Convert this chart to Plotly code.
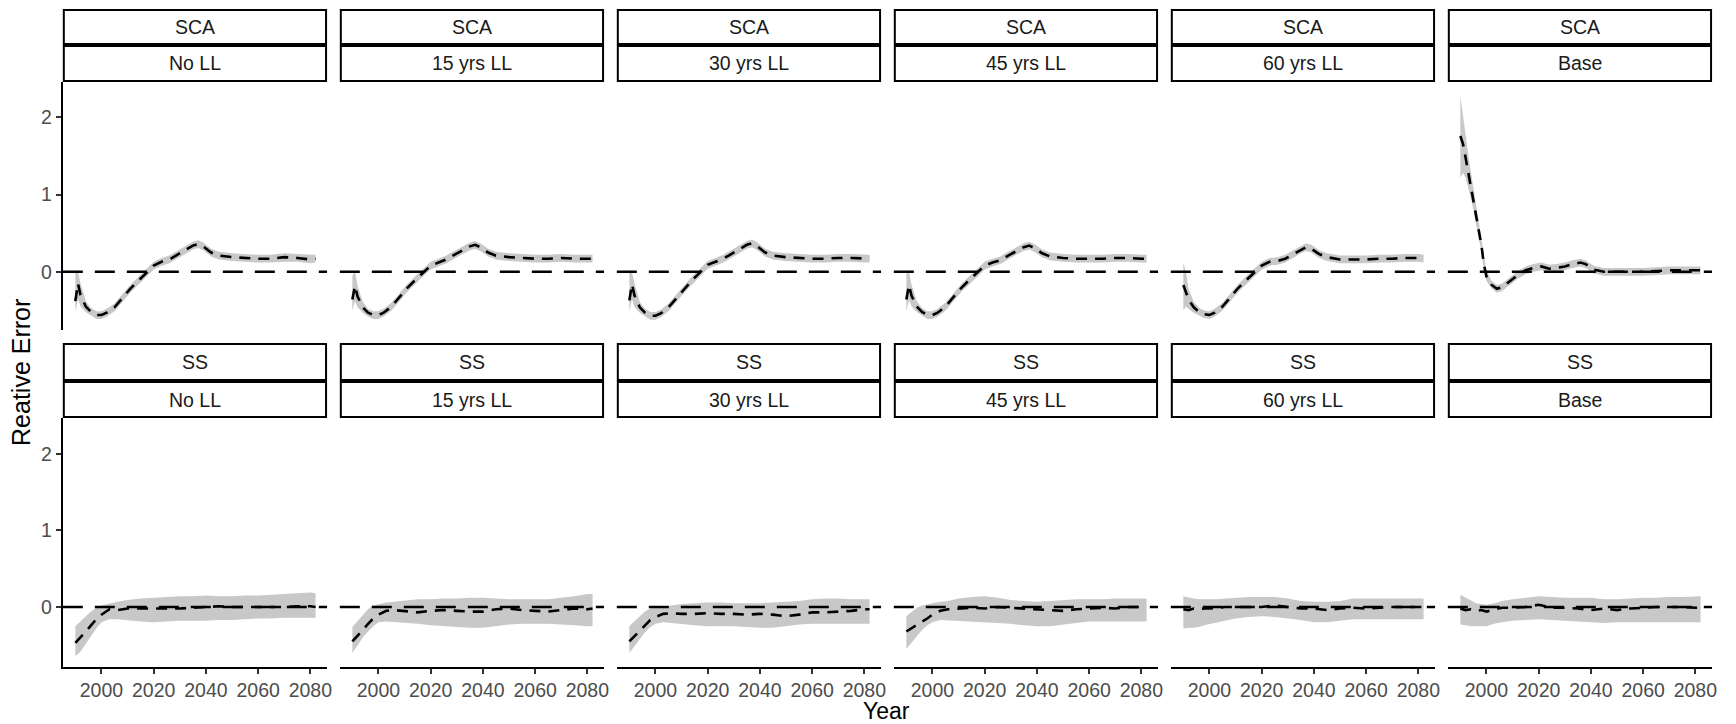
import plotly.graph_objects as go

W, H = 1736, 724

# ---------------- data ----------------
top_labels = ["SCA"] * 6
bot_labels = ["SS"] * 6
scen_labels = ["No LL", "15 yrs LL", "30 yrs LL", "45 yrs LL", "60 yrs LL", "Base"]
x_ticks = [2000, 2020, 2040, 2060, 2080]
y_ticks = [0, 1, 2]

yrs_sca = [1990, 1991, 1992, 1994, 1996, 1998, 2000, 2002, 2005, 2008, 2011, 2014, 2017, 2020, 2023,
           2026, 2029, 2032, 2035, 2037, 2039, 2042, 2045, 2050, 2055, 2060, 2065, 2070, 2075, 2080, 2082]

sca_noll_med = [-0.38, -0.15, -0.30, -0.45, -0.52, -0.56, -0.56, -0.53, -0.46, -0.34, -0.22, -0.12, -0.02, 0.08, 0.13,
                0.16, 0.22, 0.28, 0.34, 0.36, 0.33, 0.25, 0.21, 0.19, 0.18, 0.17, 0.17, 0.19, 0.18, 0.16, 0.17]
sca_noll_lo = [-0.52, -0.35, -0.45, -0.52, -0.57, -0.61, -0.61, -0.58, -0.51, -0.39, -0.27, -0.17, -0.07, 0.03, 0.08,
               0.11, 0.17, 0.23, 0.29, 0.31, 0.28, 0.20, 0.16, 0.14, 0.13, 0.12, 0.12, 0.13, 0.13, 0.11, 0.12]
sca_noll_hi = [-0.02, 0.00, -0.15, -0.38, -0.47, -0.51, -0.51, -0.48, -0.41, -0.29, -0.17, -0.07, 0.03, 0.13, 0.18,
               0.21, 0.27, 0.33, 0.39, 0.41, 0.38, 0.30, 0.26, 0.24, 0.23, 0.22, 0.22, 0.24, 0.23, 0.22, 0.22]

sca_15_med = [-0.36, -0.18, -0.32, -0.46, -0.53, -0.56, -0.56, -0.53, -0.45, -0.33, -0.21, -0.11, -0.01, 0.08, 0.12,
              0.16, 0.22, 0.28, 0.33, 0.35, 0.32, 0.25, 0.21, 0.19, 0.18, 0.17, 0.17, 0.18, 0.17, 0.17, 0.17]
sca_15_lo = [-0.50, -0.38, -0.46, -0.53, -0.58, -0.61, -0.61, -0.58, -0.50, -0.38, -0.26, -0.16, -0.06, 0.03, 0.07,
             0.11, 0.17, 0.23, 0.28, 0.30, 0.27, 0.20, 0.16, 0.14, 0.13, 0.12, 0.12, 0.13, 0.12, 0.12, 0.12]
sca_15_hi = [-0.05, 0.00, -0.18, -0.39, -0.48, -0.51, -0.51, -0.48, -0.40, -0.28, -0.16, -0.06, 0.04, 0.13, 0.17,
             0.21, 0.27, 0.33, 0.38, 0.40, 0.37, 0.30, 0.26, 0.24, 0.23, 0.22, 0.22, 0.23, 0.22, 0.22, 0.22]

sca_30_med = [-0.37, -0.16, -0.31, -0.46, -0.53, -0.57, -0.57, -0.54, -0.46, -0.34, -0.22, -0.11, -0.01, 0.09, 0.13,
              0.17, 0.23, 0.29, 0.35, 0.37, 0.33, 0.25, 0.21, 0.19, 0.18, 0.17, 0.17, 0.18, 0.18, 0.17, 0.17]
sca_30_lo = [-0.52, -0.36, -0.46, -0.53, -0.58, -0.62, -0.62, -0.59, -0.51, -0.39, -0.27, -0.16, -0.06, 0.04, 0.08,
             0.12, 0.18, 0.24, 0.30, 0.32, 0.28, 0.20, 0.16, 0.14, 0.13, 0.12, 0.12, 0.13, 0.13, 0.12, 0.12]
sca_30_hi = [-0.02, 0.00, -0.16, -0.39, -0.48, -0.52, -0.52, -0.49, -0.41, -0.29, -0.17, -0.06, 0.04, 0.14, 0.18,
             0.22, 0.28, 0.34, 0.40, 0.42, 0.38, 0.30, 0.26, 0.24, 0.23, 0.22, 0.22, 0.23, 0.23, 0.22, 0.22]

sca_45_med = [-0.36, -0.17, -0.31, -0.45, -0.52, -0.56, -0.56, -0.53, -0.45, -0.33, -0.21, -0.11, -0.02, 0.08, 0.12,
              0.15, 0.21, 0.27, 0.32, 0.34, 0.31, 0.24, 0.20, 0.18, 0.17, 0.17, 0.17, 0.18, 0.18, 0.17, 0.17]
sca_45_lo = [-0.51, -0.37, -0.45, -0.52, -0.57, -0.61, -0.61, -0.58, -0.50, -0.38, -0.26, -0.16, -0.07, 0.03, 0.07,
             0.10, 0.16, 0.22, 0.27, 0.29, 0.26, 0.19, 0.15, 0.13, 0.12, 0.12, 0.12, 0.13, 0.13, 0.12, 0.12]
sca_45_hi = [-0.03, 0.00, -0.17, -0.38, -0.47, -0.51, -0.51, -0.48, -0.40, -0.28, -0.16, -0.06, 0.03, 0.13, 0.17,
             0.20, 0.26, 0.32, 0.37, 0.39, 0.36, 0.29, 0.25, 0.23, 0.22, 0.22, 0.22, 0.23, 0.23, 0.22, 0.22]

sca_60_med = [-0.17, -0.28, -0.36, -0.46, -0.52, -0.55, -0.56, -0.53, -0.45, -0.33, -0.21, -0.11, -0.02, 0.08, 0.13,
              0.14, 0.17, 0.23, 0.29, 0.32, 0.30, 0.23, 0.19, 0.16, 0.16, 0.16, 0.17, 0.17, 0.18, 0.18, 0.17]
sca_60_lo = [-0.50, -0.45, -0.48, -0.53, -0.57, -0.60, -0.61, -0.58, -0.50, -0.38, -0.26, -0.16, -0.07, 0.03, 0.08,
             0.09, 0.12, 0.18, 0.24, 0.27, 0.25, 0.18, 0.14, 0.11, 0.11, 0.11, 0.12, 0.12, 0.13, 0.13, 0.12]
sca_60_hi = [0.12, 0.00, -0.22, -0.39, -0.47, -0.50, -0.51, -0.48, -0.40, -0.28, -0.16, -0.06, 0.03, 0.13, 0.18,
             0.19, 0.22, 0.28, 0.34, 0.37, 0.35, 0.28, 0.24, 0.21, 0.21, 0.21, 0.22, 0.22, 0.23, 0.23, 0.22]

yrs_sca_base = [1990, 1991, 1992, 1993, 1994, 1995, 1996, 1997, 1998, 1999, 2000, 2002, 2004, 2006, 2009, 2012, 2015,
                2018, 2021, 2024, 2027, 2030, 2033, 2036, 2038, 2041, 2045, 2050, 2055, 2060, 2065, 2070, 2075, 2080, 2082]
sca_base_med = [1.76, 1.66, 1.48, 1.30, 1.12, 0.93, 0.74, 0.55, 0.36, 0.10, -0.06, -0.17, -0.22, -0.20, -0.12, -0.04, 0.02,
                0.05, 0.07, 0.04, 0.05, 0.07, 0.10, 0.12, 0.10, 0.03, 0.00, 0.00, 0.00, 0.00, 0.01, 0.02, 0.02, 0.02, 0.02]
sca_base_lo = [1.22, 1.28, 1.22, 1.10, 0.96, 0.80, 0.63, 0.46, 0.27, 0.03, -0.12, -0.22, -0.27, -0.25, -0.17, -0.09, -0.03,
               0.00, 0.02, -0.01, 0.00, 0.02, 0.05, 0.07, 0.05, -0.02, -0.05, -0.05, -0.05, -0.05, -0.04, -0.03, -0.03, -0.03, -0.03]
sca_base_hi = [2.28, 2.05, 1.78, 1.52, 1.30, 1.07, 0.86, 0.65, 0.45, 0.18, 0.01, -0.12, -0.17, -0.15, -0.07, 0.01, 0.07,
               0.10, 0.12, 0.09, 0.10, 0.12, 0.15, 0.17, 0.15, 0.08, 0.05, 0.05, 0.05, 0.05, 0.06, 0.07, 0.07, 0.07, 0.07]

yrs_ss = [1990, 1992, 1994, 1996, 1998, 2000, 2003, 2006, 2010, 2015, 2020, 2025, 2030, 2035, 2040, 2045, 2050,
          2055, 2060, 2065, 2070, 2075, 2080, 2082]

ss_noll_med = [-0.47, -0.40, -0.32, -0.24, -0.16, -0.10, -0.03, -0.04, -0.02, -0.02, -0.02, -0.02, -0.02, -0.01, 0.00,
               0.01, 0.00, 0.00, 0.00, 0.00, 0.00, 0.01, 0.01, 0.00]
ss_noll_lo = [-0.64, -0.58, -0.48, -0.38, -0.28, -0.20, -0.16, -0.16, -0.17, -0.19, -0.20, -0.19, -0.18, -0.18, -0.18,
              -0.17, -0.17, -0.16, -0.15, -0.15, -0.14, -0.14, -0.14, -0.14]
ss_noll_hi = [-0.25, -0.18, -0.12, -0.06, -0.01, 0.02, 0.05, 0.07, 0.09, 0.11, 0.12, 0.13, 0.14, 0.14, 0.15,
              0.14, 0.14, 0.15, 0.15, 0.16, 0.17, 0.18, 0.19, 0.18]

ss_15_med = [-0.45, -0.38, -0.30, -0.22, -0.15, -0.10, -0.05, -0.04, -0.05, -0.07, -0.05, -0.04, -0.05, -0.06, -0.06,
             -0.03, -0.02, -0.04, -0.05, -0.06, -0.04, -0.02, -0.03, -0.02]
ss_15_lo = [-0.60, -0.50, -0.40, -0.32, -0.25, -0.20, -0.19, -0.20, -0.21, -0.22, -0.24, -0.25, -0.26, -0.27, -0.27,
            -0.25, -0.23, -0.22, -0.22, -0.22, -0.23, -0.24, -0.25, -0.25]
ss_15_hi = [-0.26, -0.18, -0.10, -0.03, 0.02, 0.04, 0.06, 0.07, 0.08, 0.10, 0.10, 0.11, 0.11, 0.12, 0.12,
            0.11, 0.10, 0.10, 0.10, 0.10, 0.12, 0.14, 0.17, 0.17]

ss_30_med = [-0.45, -0.38, -0.30, -0.23, -0.17, -0.13, -0.09, -0.08, -0.09, -0.09, -0.08, -0.09, -0.09, -0.10, -0.09,
             -0.10, -0.12, -0.10, -0.07, -0.07, -0.06, -0.05, -0.03, -0.03]
ss_30_lo = [-0.60, -0.52, -0.42, -0.33, -0.26, -0.22, -0.20, -0.21, -0.22, -0.24, -0.25, -0.25, -0.25, -0.26, -0.27,
            -0.27, -0.25, -0.23, -0.22, -0.22, -0.22, -0.22, -0.22, -0.22]
ss_30_hi = [-0.25, -0.18, -0.12, -0.06, -0.02, 0.00, 0.00, 0.02, 0.04, 0.05, 0.06, 0.06, 0.05, 0.05, 0.05,
            0.06, 0.07, 0.08, 0.10, 0.11, 0.11, 0.10, 0.10, 0.10]

ss_45_med = [-0.32, -0.28, -0.23, -0.19, -0.15, -0.10, -0.05, -0.03, -0.02, -0.01, -0.02, 0.00, -0.01, -0.02, -0.03,
             -0.04, -0.05, -0.03, -0.02, -0.01, -0.02, 0.00, 0.00, 0.00]
ss_45_lo = [-0.55, -0.46, -0.38, -0.30, -0.24, -0.20, -0.17, -0.17, -0.18, -0.19, -0.20, -0.21, -0.22, -0.24, -0.25,
            -0.25, -0.23, -0.21, -0.19, -0.19, -0.19, -0.19, -0.19, -0.19]
ss_45_hi = [-0.12, -0.06, -0.01, 0.02, 0.04, 0.05, 0.07, 0.08, 0.11, 0.13, 0.14, 0.12, 0.09, 0.08, 0.07,
            0.08, 0.09, 0.10, 0.10, 0.10, 0.11, 0.11, 0.11, 0.11]

ss_60_med = [-0.03, -0.04, -0.02, -0.03, -0.02, -0.02, -0.01, 0.00, 0.00, 0.00, 0.00, 0.02, 0.00, -0.02, -0.02,
             -0.04, -0.02, -0.01, -0.02, -0.01, 0.00, 0.00, 0.00, 0.00]
ss_60_lo = [-0.28, -0.27, -0.27, -0.26, -0.24, -0.22, -0.20, -0.18, -0.15, -0.13, -0.12, -0.13, -0.15, -0.17, -0.20,
            -0.20, -0.18, -0.16, -0.16, -0.16, -0.16, -0.16, -0.16, -0.16]
ss_60_hi = [0.14, 0.12, 0.11, 0.10, 0.10, 0.10, 0.10, 0.11, 0.12, 0.13, 0.13, 0.13, 0.11, 0.08, 0.07,
            0.07, 0.08, 0.11, 0.11, 0.11, 0.11, 0.11, 0.11, 0.11]

ss_base_med = [-0.02, -0.04, -0.03, -0.05, -0.04, -0.06, -0.03, -0.01, -0.01, 0.00, 0.03, -0.01, -0.01, -0.02, -0.04,
               -0.02, -0.04, -0.02, -0.01, 0.00, 0.00, 0.00, -0.01, -0.01]
ss_base_lo = [-0.23, -0.24, -0.25, -0.25, -0.25, -0.25, -0.22, -0.20, -0.18, -0.17, -0.16, -0.17, -0.18, -0.19, -0.20,
              -0.21, -0.20, -0.20, -0.20, -0.20, -0.20, -0.20, -0.20, -0.20]
ss_base_hi = [0.16, 0.12, 0.08, 0.05, 0.04, 0.03, 0.05, 0.08, 0.10, 0.12, 0.14, 0.13, 0.12, 0.12, 0.12,
              0.10, 0.10, 0.11, 0.12, 0.12, 0.13, 0.13, 0.14, 0.14]

panels = [
    (yrs_sca, sca_noll_med, sca_noll_lo, sca_noll_hi),
    (yrs_sca, sca_15_med, sca_15_lo, sca_15_hi),
    (yrs_sca, sca_30_med, sca_30_lo, sca_30_hi),
    (yrs_sca, sca_45_med, sca_45_lo, sca_45_hi),
    (yrs_sca, sca_60_med, sca_60_lo, sca_60_hi),
    (yrs_sca_base, sca_base_med, sca_base_lo, sca_base_hi),
    (yrs_ss, ss_noll_med, ss_noll_lo, ss_noll_hi),
    (yrs_ss, ss_15_med, ss_15_lo, ss_15_hi),
    (yrs_ss, ss_30_med, ss_30_lo, ss_30_hi),
    (yrs_ss, ss_45_med, ss_45_lo, ss_45_hi),
    (yrs_ss, ss_60_med, ss_60_lo, ss_60_hi),
    (yrs_ss, ss_base_med, ss_base_lo, ss_base_hi),
]

# ---------------- layout geometry (pixels) ----------------
col_left = [63, 340.8, 618.6, 896.4, 1174.2, 1452]
col_w = 265
row_plot = [(82, 330), (418, 667)]
row_strip1 = [(10, 44), (344, 380)]
row_strip2 = [(46, 81), (382, 417)]
y_ranges = [[-0.754, 2.46], [-0.784, 2.47]]
x_range = [1985.2, 2086.4]

FONT = "Liberation Sans, Arial, sans-serif"
RIBBON = "#C8C8C8"


def fx(p):
    return p / W


def fy(p):
    return 1 - p / H


fig = go.Figure()
layout = dict(
    width=W, height=H, margin=dict(l=0, r=0, t=0, b=0),
    paper_bgcolor="white", plot_bgcolor="white", showlegend=False,
    font=dict(family=FONT),
)
shapes = []
annotations = []

for i, (yrs, med, lo, hi) in enumerate(panels):
    r, c = divmod(i, 6)
    k = i + 1
    xa = "x" if k == 1 else f"x{k}"
    ya = "y" if k == 1 else f"y{k}"
    xkey = "xaxis" if k == 1 else f"xaxis{k}"
    ykey = "yaxis" if k == 1 else f"yaxis{k}"
    left = col_left[c]
    top, bot = row_plot[r]

    layout[xkey] = dict(
        domain=[fx(left), fx(left + col_w)], anchor=ya, range=x_range,
        showgrid=False, zeroline=False,
        showline=(r == 1), linecolor="black", linewidth=2,
        ticks="outside" if r == 1 else "", tickvals=x_ticks, ticklen=5, tickwidth=1.5, tickcolor="#333333",
        showticklabels=(r == 1), tickfont=dict(size=19.5, color="#4D4D4D", family=FONT),
    )
    layout[ykey] = dict(
        domain=[fy(bot), fy(top)], anchor=xa, range=y_ranges[r],
        showgrid=False, zeroline=False,
        showline=(c == 0), linecolor="black", linewidth=2,
        ticks="outside" if c == 0 else "", tickvals=y_ticks, ticklen=5, tickwidth=1.5, tickcolor="#333333",
        showticklabels=(c == 0), tickfont=dict(size=19.5, color="#4D4D4D", family=FONT),
    )

    # ribbon
    fig.add_trace(go.Scatter(
        x=list(yrs) + list(yrs)[::-1], y=list(hi) + list(lo)[::-1],
        fill="toself", fillcolor=RIBBON, line=dict(width=0), mode="lines",
        hoverinfo="skip", xaxis=xa, yaxis=ya,
    ))
    # median
    fig.add_trace(go.Scatter(
        x=yrs, y=med, mode="lines",
        line=dict(color="black", width=2.6, dash="11px,8px"),
        xaxis=xa, yaxis=ya,
    ))
    # zero reference line
    shapes.append(dict(
        type="line", xref=f"{xa} domain", yref=ya, x0=0, x1=1, y0=0, y1=0,
        line=dict(color="black", width=2.6, dash="20px,12px"), layer="above",
    ))

    # strips
    labels = (top_labels if r == 0 else bot_labels)[c], scen_labels[c]
    for (s0, s1), lab in zip((row_strip1[r], row_strip2[r]), labels):
        shapes.append(dict(
            type="rect", xref="paper", yref="paper",
            x0=fx(left + 1), x1=fx(left + col_w - 1), y0=fy(s1), y1=fy(s0),
            line=dict(color="black", width=2), fillcolor="white", layer="above",
        ))
        annotations.append(dict(
            x=fx(left + col_w / 2), y=fy((s0 + s1) / 2), xref="paper", yref="paper",
            text=lab, showarrow=False, xanchor="center", yanchor="middle",
            font=dict(size=19.5, color="#1A1A1A", family=FONT),
        ))

annotations.append(dict(
    x=fx(889), y=fy(711), xref="paper", yref="paper", text="Year", showarrow=False,
    xanchor="center", yanchor="middle", borderpad=0, font=dict(size=23, color="black", family=FONT),
))
annotations.append(dict(
    x=fx(21), y=fy(372), xref="paper", yref="paper", text="Reative Error", showarrow=False,
    textangle=-90, xanchor="center", yanchor="middle", font=dict(size=25, color="black", family=FONT),
))

layout["shapes"] = shapes
layout["annotations"] = annotations
fig.update_layout(**layout)
fig.write_html(
    "out.html",
    config={"displayModeBar": False},
    post_script="document.body.style.margin='0';document.body.style.overflow='hidden';",
)
